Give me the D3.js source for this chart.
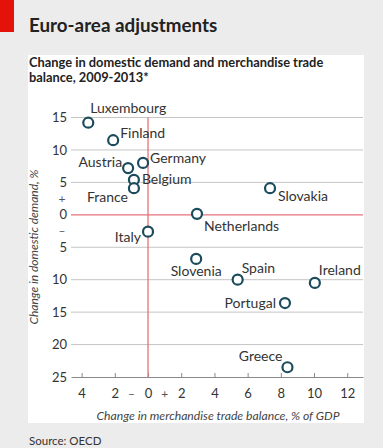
<!DOCTYPE html>
<html><head><meta charset="utf-8">
<script src="https://cdn.jsdelivr.net/npm/d3@7"></script>
<style>
body{margin:0;background:#ececec;}
svg{display:block;font-family:Lato,"Open Sans",sans-serif;}
</style>
</head><body>
<svg id="chart" width="383" height="448"></svg>
<script>
// ---- data ----
const countries = ["Luxembourg","Finland","Austria","Germany","Belgium","France","Italy","Netherlands","Slovakia","Slovenia","Spain","Ireland","Portugal","Greece"];
const tradeBalanceChange = [-3.6,-2.1,-1.2,-0.3,-0.85,-0.85,0.0,2.95,7.35,2.9,5.4,10.05,8.25,8.4];
const domesticDemandChange = [14.2,11.5,7.2,8.0,5.4,4.1,-2.6,0.15,4.1,-6.8,-10.0,-10.5,-13.6,-23.5];
const yTicks = [15,10,5,0,-5,-10,-15,-20,-25];
const xTicks = [-4,-2,0,2,4,6,8,10,12];
const ySigns = [{v:2.5,t:"+"},{v:-2.5,t:"\u2013"}];
const xSigns = [{v:-1,t:"\u2013"},{v:1,t:"+"}];
const title = "Euro-area adjustments";
const subtitle = ["Change in domestic demand and merchandise trade","balance, 2009-2013*"];
const xTitle = "Change in merchandise trade balance, % of GDP";
const yTitle = "Change in domestic demand, %";
const source = "Source: OECD";

// ---- label placement (style config) ----
const labelOffsets = {
  Luxembourg:[2,-15,"start"], Finland:[7,-7,"start"], Austria:[-6,-6,"end"],
  Germany:[7,-5,"start"], Belgium:[8,-1,"start"], France:[-6,9,"end"],
  Italy:[-7,5,"end"], Netherlands:[7,12,"start"], Slovakia:[8,8,"start"],
  Slovenia:[0,12,"middle"], Spain:[4,-12,"start"], Ireland:[4,-13,"start"],
  Portugal:[-9,0,"end"], Greece:[-5,-11,"end"]
};

const svg = d3.select("#chart");
const pL = 71, pR = 363, pT = 117.5, pB = 377;
const x = d3.scaleLinear().domain([-4.64,12.95]).range([pL,pR]);
const y = d3.scaleLinear().domain([-25,15]).range([pB,pT]);

// white panel & red tag
svg.append("rect").attr("x",28).attr("y",55).attr("width",336).attr("height",368).attr("fill","#fff");
svg.append("rect").attr("x",0).attr("y",0).attr("width",14).attr("height",32).attr("fill","#e3120b");

svg.append("text").attr("x",29).attr("y",32).text(title)
  .attr("font-size",18.8).attr("font-weight","bold").attr("fill","#222");
svg.append("g").selectAll("text").data(subtitle).join("text")
  .attr("x",29).attr("y",(d,i)=>67+i*14.5).text(d=>d)
  .attr("font-size",12.85).attr("font-weight","bold").attr("fill","#222");

// gridlines
svg.append("g").selectAll("line").data(yTicks.filter(v=>v!==0 && v!==-25)).join("line")
  .attr("x1",pL).attr("x2",pR).attr("y1",d=>y(d)).attr("y2",d=>y(d))
  .attr("stroke","#c4c4c4").attr("stroke-width",1);

// y axis labels
const yAxis = d3.axisLeft(y).tickValues(yTicks).tickFormat(d=>Math.abs(d)).tickSize(0).tickPadding(4);
const gy = svg.append("g").attr("transform",`translate(${pL},0)`).call(yAxis);
gy.select(".domain").remove();
gy.selectAll("text").attr("font-size",13).attr("fill","#333").attr("font-family","Lato,'Open Sans',sans-serif");
svg.append("g").selectAll("text").data(ySigns).join("text")
  .attr("x",62).attr("y",d=>y(d.v)).attr("dy","0.35em").attr("text-anchor","middle")
  .attr("font-size",12).attr("fill","#555").text(d=>d.t);

// x axis
const xAxis = d3.axisBottom(x).tickValues(xTicks).tickFormat(d=>Math.abs(d)).tickSizeInner(-4).tickSizeOuter(0).tickPadding(12);
const gx = svg.append("g").attr("transform",`translate(0,${pB})`).call(xAxis);
gx.select(".domain").attr("stroke","#8a8a8a").attr("stroke-width",1.2);
gx.selectAll(".tick line").attr("stroke","#8a8a8a");
gx.selectAll("text").attr("font-size",13).attr("fill","#333").attr("font-family","Lato,'Open Sans',sans-serif");
svg.append("g").selectAll("text").data(xSigns).join("text")
  .attr("x",d=>x(d.v)).attr("y",pB+17).attr("dy","0.35em").attr("text-anchor","middle")
  .attr("font-size",12).attr("fill","#555").text(d=>d.t);

// zero lines
svg.append("line").attr("x1",pL).attr("x2",pR).attr("y1",y(0)).attr("y2",y(0))
  .attr("stroke","#e5737d").attr("stroke-width",1.3);
svg.append("line").attr("x1",x(0)).attr("x2",x(0)).attr("y1",pT).attr("y2",pB)
  .attr("stroke","#e5737d").attr("stroke-width",1.3);

// titles
svg.append("text").attr("x",218).attr("y",420).attr("text-anchor","middle")
  .attr("font-size",12.2).attr("font-style","italic").attr("fill","#444").text(xTitle);
svg.append("text").attr("transform",`translate(38,247) rotate(-90)`).attr("text-anchor","middle")
  .attr("font-size",12).attr("font-style","italic").attr("fill","#444").text(yTitle);
svg.append("text").attr("x",29).attr("y",445).attr("font-size",11.5).attr("fill","#333").text(source);

// points
const pts = countries.map((c,i)=>({c, tx:tradeBalanceChange[i], dd:domesticDemandChange[i]}));
svg.append("g").selectAll("circle").data(pts).join("circle")
  .attr("cx",d=>x(d.tx)).attr("cy",d=>y(d.dd)).attr("r",5)
  .attr("fill","#fff").attr("stroke","#1b4b5c").attr("stroke-width",2.2);
svg.append("g").selectAll("text").data(pts).join("text")
  .attr("x",d=>x(d.tx)+labelOffsets[d.c][0]).attr("y",d=>y(d.dd)+labelOffsets[d.c][1])
  .attr("dy","0.35em").attr("text-anchor",d=>labelOffsets[d.c][2])
  .attr("font-size",14).attr("fill","#333").text(d=>d.c);
</script>
</body></html>
